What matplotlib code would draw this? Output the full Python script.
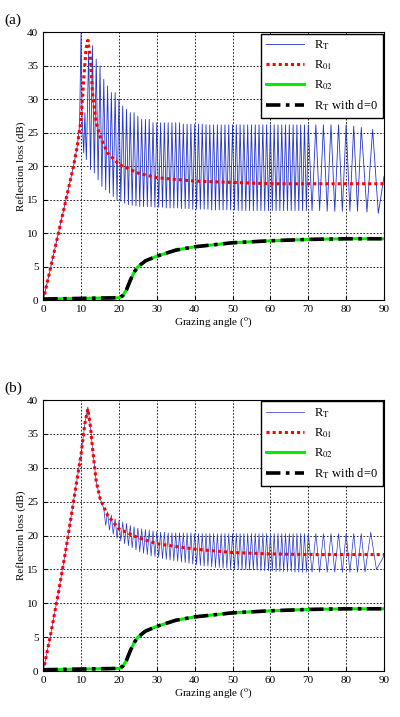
import numpy as np
import matplotlib
matplotlib.use("Agg")
import matplotlib.pyplot as plt

plt.rcParams['font.family'] = ['Liberation Serif', 'DejaVu Serif']
plt.rcParams['mathtext.fontset'] = 'stix'

# R01 curves
r01a_x = [0, 2, 4, 6, 8, 9, 10, 10.7, 11.3, 11.8, 12.5, 13, 14, 15, 17, 20, 25, 30, 40, 50, 60, 70, 90]
r01a_y = [0, 5, 10, 15, 20, 23, 27, 33, 37.5, 38.8, 36, 31, 26.5, 24.5, 22, 20.3, 19, 18.3, 17.8, 17.6, 17.4, 17.4, 17.4]
r01b_x = [0, 2, 4, 6, 8, 10, 11, 11.8, 12.5, 13, 14, 15, 17, 20, 25, 30, 40, 50, 60, 70, 90]
r01b_y = [0, 5.5, 11.5, 18, 25, 32, 36.5, 38.7, 36, 33, 28, 25.5, 23, 21, 19.7, 18.8, 18, 17.5, 17.3, 17.2, 17.2]

# R02 (same as RT with d=0)
r02_x = [0, 10, 20, 21, 22, 23, 24, 25, 27, 30, 35, 40, 50, 60, 70, 80, 90]
r02_y = [0.2, 0.3, 0.4, 0.7, 1.6, 3.0, 4.2, 5.0, 5.9, 6.6, 7.5, 8.0, 8.6, 8.9, 9.1, 9.2, 9.2]

# RT (a): rising part, then peaks / troughs
rta_head_x = [0, 2, 4, 6, 8, 9, 9.6, 10.0, 10.3, 10.7, 11.0, 11.4]
rta_head_y = [0, 5, 10, 15, 20, 23, 26, 40, 27, 22, 28, 21]
rta_pk_x = list(range(12, 70)) + [70, 72, 74, 76, 78, 80, 82, 84, 87]
rta_pk_y = [37, 38, 36, 35, 33, 32, 31, 31, 30, 29, 28.5, 28, 28, 27.5, 27, 27, 27, 26.5, 26.5, 26.5,
            26.5, 26.5, 26.5, 26.5, 26.5, 26.3, 26.3, 26.3, 26.3, 26.3, 26.3, 26.2, 26.2, 26.2, 26.2,
            26.2, 26.2, 26.2, 26.2, 26.2, 26.2, 26.2, 26.2, 26.2, 26.2, 26.2, 26.2, 26.2, 26.2, 26.2,
            26.2, 26.2, 26.2, 26.2, 26.2, 26.2, 26.2, 26.2,
            26.2, 26.2, 26.2, 26.2, 26.2, 26.2, 26.0, 25.8, 25.5]
rta_tr_y = [19.5, 19, 18, 17, 16.5, 16, 15.5, 15, 14.8, 14.5, 14.3, 14.2, 14.1, 14, 14, 14, 14, 13.9,
            13.9, 13.9, 13.8, 13.8, 13.8, 13.8, 13.7, 13.7, 13.7, 13.6, 13.6, 13.6, 13.6, 13.6, 13.5,
            13.5, 13.5, 13.5, 13.5, 13.5, 13.5, 13.4, 13.4, 13.4, 13.4, 13.4, 13.4, 13.4, 13.4, 13.4,
            13.4, 13.4, 13.4, 13.4, 13.4, 13.4, 13.4, 13.4, 13.4, 13.4,
            13.4, 13.4, 13.3, 13.3, 13.3, 13.3, 13.3, 13.2, 13.0]
rta_tr_x = [x + 0.5 for x in range(12, 70)] + [71, 73, 75, 77, 79, 81, 83, 85.5, 88.5]

# RT (b)
rtb_head_x = [0, 2, 4, 6, 8, 10, 11, 11.8, 12.5, 13, 14, 15]
rtb_head_y = [0, 5.5, 11.5, 18, 25, 32, 36.5, 39, 36, 33, 28, 25.5]
rtb_pk_x = list(range(16, 70)) + [70, 72, 74, 76, 78, 80, 82, 84, 86.5]
rtb_pk_y = [24, 23.5, 23, 22.5, 22.2, 22, 21.8, 21.5, 21.3, 21.1, 21, 20.9, 20.8, 20.7, 20.6, 20.5,
            20.5, 20.4, 20.4, 20.4, 20.4, 20.4, 20.4, 20.4, 20.3, 20.3, 20.3, 20.3, 20.3, 20.3, 20.3,
            20.3, 20.3, 20.3, 20.3, 20.3, 20.3, 20.3, 20.3, 20.3, 20.3, 20.3, 20.3, 20.3, 20.3, 20.3,
            20.3, 20.3, 20.3, 20.3, 20.3, 20.3, 20.3, 20.3,
            20.3, 20.3, 20.3, 20.3, 20.3, 20.3, 20.3, 20.3, 20.5]
rtb_tr_x = [x + 0.5 for x in range(16, 70)] + [71, 73, 75, 77, 79, 81, 83, 85, 88]
rtb_tr_y = [21.5, 20.8, 20.2, 19.6, 19.2, 18.8, 18.5, 18.2, 17.9, 17.6, 17.4, 17.2, 17.0, 16.9, 16.8,
            16.6, 16.5, 16.4, 16.3, 16.2, 16.1, 16.0, 15.9, 15.8, 15.7, 15.6, 15.5, 15.5, 15.4, 15.3,
            15.3, 15.2, 15.2, 15.1, 15.1, 15.0, 15.0, 15.0, 14.9, 14.9, 14.9, 14.8, 14.8, 14.8, 14.8,
            14.7, 14.7, 14.7, 14.7, 14.7, 14.6, 14.6, 14.6, 14.6,
            14.6, 14.6, 14.6, 14.6, 14.6, 14.6, 14.6, 14.6, 15.0]
rtb_tail = (90, 17)
rta_tail = (90, 18.5)


def zigzag(hx, hy, px, py, tx, ty, tail):
    xs, ys = list(hx), list(hy)
    for a, b, c, d in zip(px, py, tx, ty):
        xs += [a, c]
        ys += [b, d]
    xs.append(tail[0])
    ys.append(tail[1])
    return xs, ys


fig = plt.figure(figsize=(4.0, 7.17), dpi=100)
ax_a = fig.add_axes([0.108, 0.581, 0.852, 0.374])
ax_b = fig.add_axes([0.108, 0.064, 0.852, 0.378])

panels = [
    (ax_a, zigzag(rta_head_x, rta_head_y, rta_pk_x, rta_pk_y, rta_tr_x, rta_tr_y, rta_tail), r01a_x, r01a_y, '(a)', 0.6),
    (ax_b, zigzag(rtb_head_x, rtb_head_y, rtb_pk_x, rtb_pk_y, rtb_tr_x, rtb_tr_y, rtb_tail), r01b_x, r01b_y, '(b)', 0.5),
]

for ax, (rx, ry), ox, oy, tag, lw in panels:
    ax.plot(rx, ry, color='#2233cc', lw=lw, label=r'R$_\mathrm{T}$')
    ax.plot(ox, oy, color='red', lw=2.2, ls=(0, (1, 1)), label=r'R$_\mathrm{01}$')
    ax.plot(r02_x, r02_y, color='#00ee00', lw=2.2, label=r'R$_\mathrm{02}$')
    ax.plot(r02_x, r02_y, color='black', lw=2.6, ls=(0, (4, 1.5, 1, 1.5)), label=r'R$_\mathrm{T}$ with d=0')
    ax.set_xlim(0, 90)
    ax.set_ylim(0, 40)
    ax.set_xticks(range(0, 91, 10))
    ax.set_yticks(range(0, 41, 5))
    ax.grid(True, color='black', ls=(0, (2, 2)), lw=0.6)
    ax.tick_params(labelsize=8, direction='in', length=3)
    ax.set_xlabel('Grazing angle ($^\\mathrm{o}$)', fontsize=8, labelpad=1)
    ax.set_ylabel('Reflection loss (dB)', fontsize=8, labelpad=1)
    ax.legend(loc='upper right', fontsize=9, handlelength=3, fancybox=False,
              edgecolor='black', framealpha=1, borderaxespad=0.1, labelspacing=0.5)
    fig.text(0.01, ax.get_position().y1 + 0.012, tag, fontsize=11)

fig.savefig('out.png', dpi=100)
